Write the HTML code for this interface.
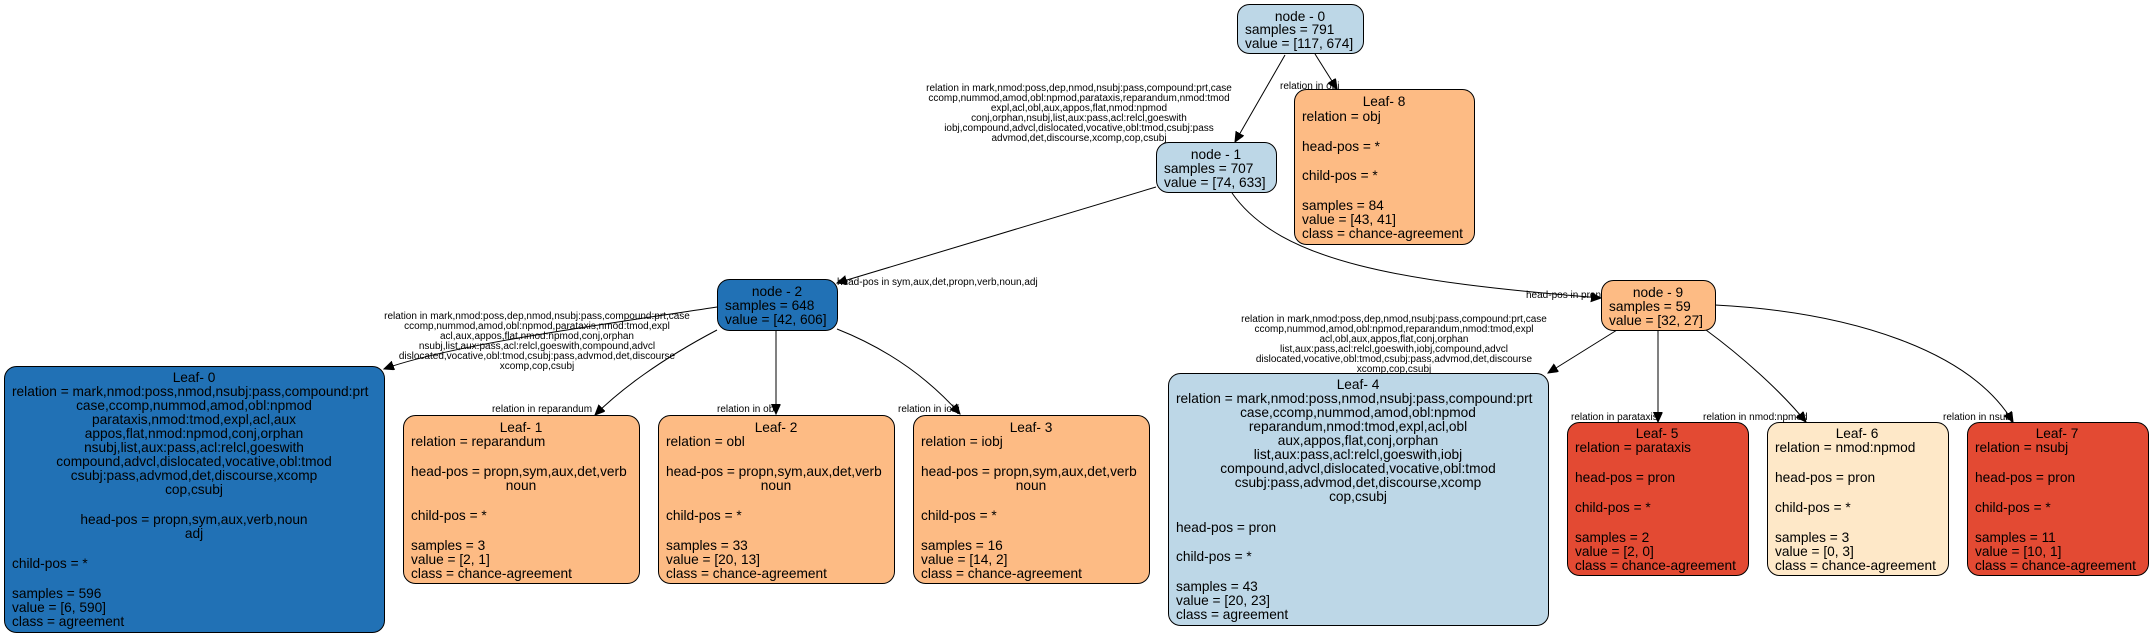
<!DOCTYPE html>
<html><head><meta charset="utf-8"><style>
html,body{margin:0;padding:0;background:#fff;}
svg{display:block;}
text{font-family:"Liberation Sans",Arial,sans-serif;fill:#000;}
.n{font-size:13.7px;}
.e{font-size:10px;}
.m{text-anchor:middle;}
rect{stroke:#000;stroke-width:1;}
path{fill:none;stroke:#000;stroke-width:1;}
</style></head><body>
<svg width="2150" height="636" viewBox="0 0 2150 636" xmlns="http://www.w3.org/2000/svg">
<defs><marker id="a" markerUnits="userSpaceOnUse" markerWidth="11" markerHeight="10" refX="10" refY="4.5" orient="auto"><path d="M0,0 L10,4.5 L0,9 Z" style="fill:#000;stroke:#000"/></marker></defs>

<!-- edges -->
<path d="M1285,55 L1235,142" marker-end="url(#a)"/>
<path d="M1315,54 L1337,89" marker-end="url(#a)"/>
<path d="M1156,187 L837,283" marker-end="url(#a)"/>
<path d="M1232,193 C1280,262 1400,282 1601,298" marker-end="url(#a)"/>
<path d="M717,307 C600,325 450,345 384,369" marker-end="url(#a)"/>
<path d="M717,330 C660,360 620,390 595,415" marker-end="url(#a)"/>
<path d="M776,331 L776,414" marker-end="url(#a)"/>
<path d="M837,329 C890,350 930,380 960,414" marker-end="url(#a)"/>
<path d="M1617,330 L1548,373" marker-end="url(#a)"/>
<path d="M1658,330 L1658,422" marker-end="url(#a)"/>
<path d="M1706,330 C1740,355 1780,390 1806,422" marker-end="url(#a)"/>
<path d="M1715,305 C1850,312 1970,350 2013,422" marker-end="url(#a)"/>

<!-- edge labels -->
<g class="e m">
<text x="1079" y="91">relation in mark,nmod:poss,dep,nmod,nsubj:pass,compound:prt,case</text>
<text x="1079" y="101">ccomp,nummod,amod,obl:npmod,parataxis,reparandum,nmod:tmod</text>
<text x="1079" y="111">expl,acl,obl,aux,appos,flat,nmod:npmod</text>
<text x="1079" y="121">conj,orphan,nsubj,list,aux:pass,acl:relcl,goeswith</text>
<text x="1079" y="131">iobj,compound,advcl,dislocated,vocative,obl:tmod,csubj:pass</text>
<text x="1079" y="141">advmod,det,discourse,xcomp,cop,csubj</text>

<text x="537" y="319">relation in mark,nmod:poss,dep,nmod,nsubj:pass,compound:prt,case</text>
<text x="537" y="329">ccomp,nummod,amod,obl:npmod,parataxis,nmod:tmod,expl</text>
<text x="537" y="339">acl,aux,appos,flat,nmod:npmod,conj,orphan</text>
<text x="537" y="349">nsubj,list,aux:pass,acl:relcl,goeswith,compound,advcl</text>
<text x="537" y="359">dislocated,vocative,obl:tmod,csubj:pass,advmod,det,discourse</text>
<text x="537" y="369">xcomp,cop,csubj</text>

<text x="1394" y="322">relation in mark,nmod:poss,dep,nmod,nsubj:pass,compound:prt,case</text>
<text x="1394" y="332">ccomp,nummod,amod,obl:npmod,reparandum,nmod:tmod,expl</text>
<text x="1394" y="342">acl,obl,aux,appos,flat,conj,orphan</text>
<text x="1394" y="352">list,aux:pass,acl:relcl,goeswith,iobj,compound,advcl</text>
<text x="1394" y="362">dislocated,vocative,obl:tmod,csubj:pass,advmod,det,discourse</text>
<text x="1394" y="372">xcomp,cop,csubj</text>
<text x="542" y="412">relation in reparandum</text>
</g>
<g class="e">
<text x="1280" y="89">relation in obj</text>
<text x="837" y="285">head-pos in sym,aux,det,propn,verb,noun,adj</text>
<text x="1526" y="298">head-pos in pron</text>
<text x="717" y="412">relation in obl</text>
<text x="898" y="412">relation in iobj</text>
<text x="1571" y="420">relation in parataxis</text>
<text x="1703" y="420">relation in nmod:npmod</text>
<text x="1943" y="420">relation in nsubj</text>
</g>

<!-- nodes -->
<g class="n">
<rect x="1237.5" y="4.5" width="126" height="49" rx="12" fill="#bdd7e7"/>
<text class="m" x="1300" y="21">node - 0</text>
<text x="1245" y="34">samples = 791</text>
<text x="1245" y="48">value = [117, 674]</text>

<rect x="1156.5" y="142.5" width="120" height="50" rx="12" fill="#bdd7e7"/>
<text class="m" x="1216" y="159">node - 1</text>
<text x="1164" y="173">samples = 707</text>
<text x="1164" y="187">value = [74, 633]</text>

<rect x="717.5" y="279.5" width="120" height="51" rx="12" fill="#2171b5"/>
<text class="m" x="777" y="296">node - 2</text>
<text x="725" y="310">samples = 648</text>
<text x="725" y="324">value = [42, 606]</text>

<rect x="1601.5" y="280.5" width="114" height="50" rx="12" fill="#fdbb84"/>
<text class="m" x="1658" y="297">node - 9</text>
<text x="1609" y="311">samples = 59</text>
<text x="1609" y="325">value = [32, 27]</text>

<!-- Leaf 8 -->
<rect x="1294.5" y="89.5" width="180" height="155" rx="12" fill="#fdbb84"/>
<text class="m" x="1384" y="106">Leaf- 8</text>
<text x="1302" y="121">relation = obj</text>
<text x="1302" y="151">head-pos = *</text>
<text x="1302" y="180">child-pos = *</text>
<text x="1302" y="210">samples = 84</text>
<text x="1302" y="224">value = [43, 41]</text>
<text x="1302" y="238">class = chance-agreement</text>

<!-- Leaf 0 -->
<rect x="4.5" y="366.5" width="380" height="266" rx="12" fill="#2171b5"/>
<text class="m" x="194" y="382">Leaf- 0</text>
<text x="12" y="396">relation = mark,nmod:poss,nmod,nsubj:pass,compound:prt</text>
<text class="m" x="194" y="410">case,ccomp,nummod,amod,obl:npmod</text>
<text class="m" x="194" y="424">parataxis,nmod:tmod,expl,acl,aux</text>
<text class="m" x="194" y="438">appos,flat,nmod:npmod,conj,orphan</text>
<text class="m" x="194" y="452">nsubj,list,aux:pass,acl:relcl,goeswith</text>
<text class="m" x="194" y="466">compound,advcl,dislocated,vocative,obl:tmod</text>
<text class="m" x="194" y="480">csubj:pass,advmod,det,discourse,xcomp</text>
<text class="m" x="194" y="494">cop,csubj</text>
<text class="m" x="194" y="524">head-pos = propn,sym,aux,verb,noun</text>
<text class="m" x="194" y="538">adj</text>
<text x="12" y="568">child-pos = *</text>
<text x="12" y="598">samples = 596</text>
<text x="12" y="612">value = [6, 590]</text>
<text x="12" y="626">class = agreement</text>

<!-- Leaf 1 -->
<rect x="403.5" y="415.5" width="236" height="168" rx="12" fill="#fdbb84"/>
<text class="m" x="521" y="432">Leaf- 1</text>
<text x="411" y="446">relation = reparandum</text>
<text x="411" y="476">head-pos = propn,sym,aux,det,verb</text>
<text class="m" x="521" y="490">noun</text>
<text x="411" y="520">child-pos = *</text>
<text x="411" y="550">samples = 3</text>
<text x="411" y="564">value = [2, 1]</text>
<text x="411" y="578">class = chance-agreement</text>

<!-- Leaf 2 -->
<rect x="658.5" y="415.5" width="236" height="168" rx="12" fill="#fdbb84"/>
<text class="m" x="776" y="432">Leaf- 2</text>
<text x="666" y="446">relation = obl</text>
<text x="666" y="476">head-pos = propn,sym,aux,det,verb</text>
<text class="m" x="776" y="490">noun</text>
<text x="666" y="520">child-pos = *</text>
<text x="666" y="550">samples = 33</text>
<text x="666" y="564">value = [20, 13]</text>
<text x="666" y="578">class = chance-agreement</text>

<!-- Leaf 3 -->
<rect x="913.5" y="415.5" width="236" height="168" rx="12" fill="#fdbb84"/>
<text class="m" x="1031" y="432">Leaf- 3</text>
<text x="921" y="446">relation = iobj</text>
<text x="921" y="476">head-pos = propn,sym,aux,det,verb</text>
<text class="m" x="1031" y="490">noun</text>
<text x="921" y="520">child-pos = *</text>
<text x="921" y="550">samples = 16</text>
<text x="921" y="564">value = [14, 2]</text>
<text x="921" y="578">class = chance-agreement</text>

<!-- Leaf 4 -->
<rect x="1168.5" y="373.5" width="380" height="252" rx="12" fill="#bdd7e7"/>
<text class="m" x="1358" y="389">Leaf- 4</text>
<text x="1176" y="403">relation = mark,nmod:poss,nmod,nsubj:pass,compound:prt</text>
<text class="m" x="1358" y="417">case,ccomp,nummod,amod,obl:npmod</text>
<text class="m" x="1358" y="431">reparandum,nmod:tmod,expl,acl,obl</text>
<text class="m" x="1358" y="445">aux,appos,flat,conj,orphan</text>
<text class="m" x="1358" y="459">list,aux:pass,acl:relcl,goeswith,iobj</text>
<text class="m" x="1358" y="473">compound,advcl,dislocated,vocative,obl:tmod</text>
<text class="m" x="1358" y="487">csubj:pass,advmod,det,discourse,xcomp</text>
<text class="m" x="1358" y="501">cop,csubj</text>
<text x="1176" y="532">head-pos = pron</text>
<text x="1176" y="561">child-pos = *</text>
<text x="1176" y="591">samples = 43</text>
<text x="1176" y="605">value = [20, 23]</text>
<text x="1176" y="619">class = agreement</text>

<!-- Leaf 5 -->
<rect x="1567.5" y="422.5" width="181" height="153" rx="12" fill="#e34a33"/>
<text class="m" x="1657" y="438">Leaf- 5</text>
<text x="1575" y="452">relation = parataxis</text>
<text x="1575" y="482">head-pos = pron</text>
<text x="1575" y="512">child-pos = *</text>
<text x="1575" y="542">samples = 2</text>
<text x="1575" y="556">value = [2, 0]</text>
<text x="1575" y="570">class = chance-agreement</text>

<!-- Leaf 6 -->
<rect x="1767.5" y="422.5" width="181" height="153" rx="12" fill="#fee8c8"/>
<text class="m" x="1857" y="438">Leaf- 6</text>
<text x="1775" y="452">relation = nmod:npmod</text>
<text x="1775" y="482">head-pos = pron</text>
<text x="1775" y="512">child-pos = *</text>
<text x="1775" y="542">samples = 3</text>
<text x="1775" y="556">value = [0, 3]</text>
<text x="1775" y="570">class = chance-agreement</text>

<!-- Leaf 7 -->
<rect x="1967.5" y="422.5" width="181" height="153" rx="12" fill="#e34a33"/>
<text class="m" x="2057" y="438">Leaf- 7</text>
<text x="1975" y="452">relation = nsubj</text>
<text x="1975" y="482">head-pos = pron</text>
<text x="1975" y="512">child-pos = *</text>
<text x="1975" y="542">samples = 11</text>
<text x="1975" y="556">value = [10, 1]</text>
<text x="1975" y="570">class = chance-agreement</text>
</g>
</svg>
</body></html>
